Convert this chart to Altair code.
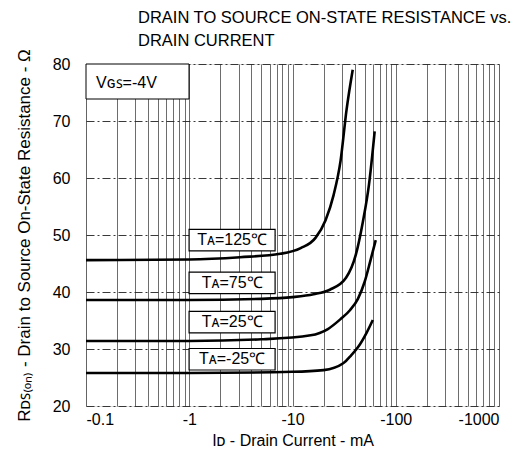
import altair as alt
import pandas as pd

# ---- data ----
i_125 = [0.1, 1, 3.1, 7.6, 12, 16.7, 20.9, 25, 29.2, 33.4, 38.3]
r_125 = [45.6, 45.7, 46.1, 46.7, 47.7, 49.5, 52.6, 57.0, 63.0, 72.0, 79.0]
i_75 = [0.1, 1, 5, 10, 16, 23, 33, 41, 48, 55, 62.5]
r_75 = [38.6, 38.6, 38.8, 39.1, 39.6, 40.4, 42.5, 46.5, 52.3, 58.8, 68.2]
i_25 = [0.1, 1, 5, 15, 22, 29, 36, 43, 50, 57, 64]
r_25 = [31.4, 31.4, 31.7, 32.4, 33.5, 35.2, 36.8, 38.8, 41.8, 45.6, 49.1]
i_m25 = [0.1, 1, 10, 20, 31, 37, 43, 52, 60]
r_m25 = [25.8, 25.8, 26.0, 26.3, 27.5, 28.9, 30.3, 32.8, 35.1]

series = ["125", "75", "25", "-25"]
label_text = ["Tᴀ=125℃", "Tᴀ=75℃", "Tᴀ=25℃", "Tᴀ=-25℃"]
label_x = [2.6, 2.6, 2.6, 2.6]
label_y = [49.1, 41.6, 34.7, 28.2]
vgs_label = ["Vɢꜱ=-4V"]
title_lines = ["DRAIN TO SOURCE ON-STATE RESISTANCE vs.", "DRAIN CURRENT"]

x_ticks = [0.1, 0.2, 0.3, 0.4, 0.5, 0.6, 0.7, 0.8, 0.9,
           1, 2, 3, 4, 5, 6, 7, 8, 9,
           10, 20, 30, 40, 50, 60, 70, 80, 90,
           100, 200, 300, 400, 500, 600, 700, 800, 900, 1000]
y_ticks = [20, 30, 40, 50, 60, 70, 80]

rows = []
for s, xs, ys in zip(series, [i_125, i_75, i_25, i_m25], [r_125, r_75, r_25, r_m25]):
    for a, b in zip(xs, ys):
        rows.append({"series": s, "id": a, "r": b})
df = pd.DataFrame(rows)
lab = pd.DataFrame({"text": label_text, "x": label_x, "y": label_y})
vgs = pd.DataFrame({"text": vgs_label})
ttl1 = pd.DataFrame({"text": title_lines[:1]})
ttl2 = pd.DataFrame({"text": title_lines[1:]})

FONT = "Liberation Sans"

xscale = alt.Scale(type="log", domain=[0.1, 1000], nice=False)
yscale = alt.Scale(domain=[20, 80], nice=False, zero=False)

xaxis = alt.Axis(
    values=x_ticks,
    title="Iᴅ - Drain Current - mA",
    titleFont=FONT, titleFontSize=16, titleFontWeight="normal", titleColor="#000",
    titlePadding=5,
    labelExpr="abs(log(datum.value)/LN10 - round(log(datum.value)/LN10)) < 0.001 ? '-' + format(datum.value, '~g') : ''",
    labelFont=FONT, labelFontSize=16, labelColor="#000", labelPadding=5,
    labelOverlap=False,
    ticks=False, domain=False,
    grid=True, gridColor="#333", gridOpacity=0.8, gridWidth=0.9,
)
yaxis = alt.Axis(
    values=y_ticks,
    title="Rᴅꜱ₍ₒₙ₎ - Drain to Source On-State Resistance - Ω",
    titleFont=FONT, titleFontSize=17, titleFontWeight="normal", titleColor="#000",
    titlePadding=19,
    labelFont=FONT, labelFontSize=16, labelColor="#000", labelPadding=16,
    ticks=False, domain=False,
    grid=True, gridColor="#222", gridDash=[8, 3, 2, 3], gridWidth=0.9,
)

lines = alt.Chart(df).mark_line(color="black", strokeWidth=2.6, interpolate="monotone").encode(
    x=alt.X("id:Q", scale=xscale, axis=xaxis),
    y=alt.Y("r:Q", scale=yscale, axis=yaxis),
    detail="series:N",
)

boxes = alt.Chart(lab).mark_point(
    shape="M-1,-0.25L1,-0.25L1,0.25L-1,0.25Z",
    size=86 * 86, filled=True, fill="white", stroke="black", strokeWidth=1.2, opacity=1,
).encode(
    x=alt.X("x:Q", scale=xscale),
    y=alt.Y("y:Q", scale=yscale),
)

texts = alt.Chart(lab).mark_text(
    font=FONT, fontSize=16, fontWeight="normal", color="black", align="center", baseline="middle",
).encode(
    x=alt.X("x:Q", scale=xscale),
    y=alt.Y("y:Q", scale=yscale),
    text="text:N",
)

vgs_box = alt.Chart(vgs).mark_rect(fill="white", stroke="black", strokeWidth=1).encode(
    x=alt.value(0), x2=alt.value(103), y=alt.value(0), y2=alt.value(35)
)
vgs_text = alt.Chart(vgs).mark_text(
    font=FONT, fontSize=16, fontWeight="normal", color="black", align="left", baseline="middle",
).encode(x=alt.value(10), y=alt.value(19), text="text:N")

title1 = alt.Chart(ttl1).mark_text(
    font=FONT, fontSize=16.5, fontWeight="normal", color="black", align="left", baseline="middle",
).encode(x=alt.value(52), y=alt.value(-46), text="text:N")
title2 = alt.Chart(ttl2).mark_text(
    font=FONT, fontSize=16.5, fontWeight="normal", color="black", align="left", baseline="middle",
).encode(x=alt.value(52), y=alt.value(-23), text="text:N")

chart = alt.layer(lines, vgs_box, vgs_text, boxes, texts, title1, title2).properties(
    width=413,
    height=342,
    autosize=alt.AutoSizeParams(type="none"),
    padding={"left": 78, "top": 56, "right": 15, "bottom": 46},
).configure_view(
    stroke="#333", strokeWidth=1, strokeDash=[8, 3, 2, 3]
).configure(background="white")

chart.save("out.html", embed_options={"renderer": "svg", "actions": False})
